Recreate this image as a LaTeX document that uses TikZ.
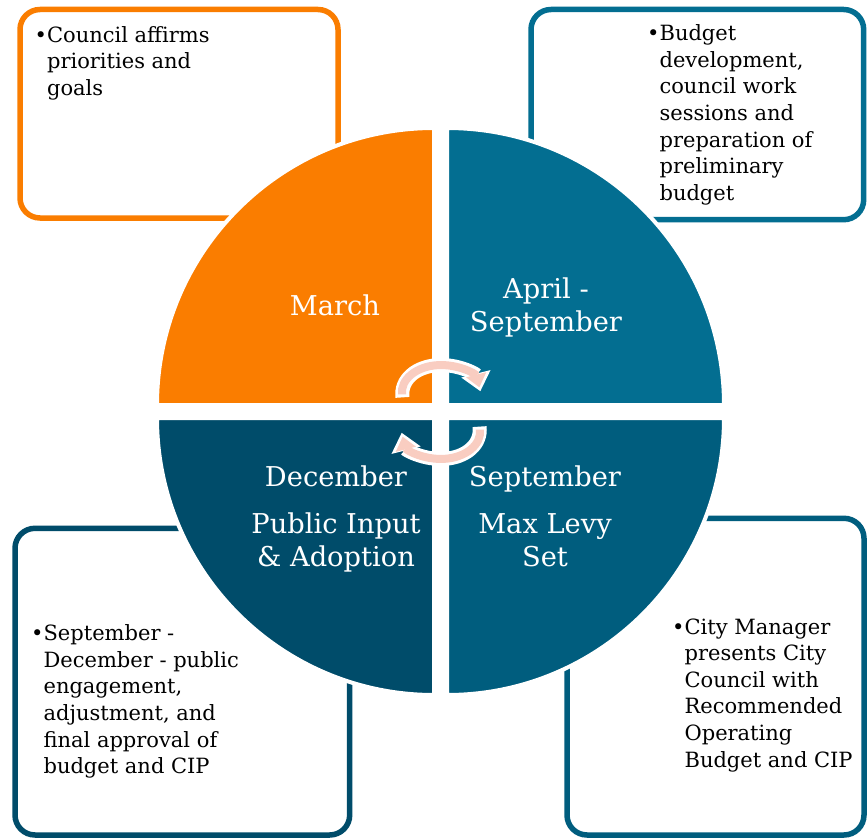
\documentclass[tikz,border=0pt]{standalone}
\usepackage{fontspec}
\setmainfont{DejaVu Serif}
\usetikzlibrary{arrows.meta}
\definecolor{orangeq}{RGB}{250,125,0}
\definecolor{tealA}{RGB}{3,110,145}
\definecolor{tealB}{RGB}{0,93,126}
\definecolor{tealC}{RGB}{0,76,106}
\definecolor{pinkc}{RGB}{249,205,193}
\tikzset{
  infobox/.style={rectangle, rounded corners=20pt, line width=5.5pt, fill=white, inner sep=0pt},
  quad/.style={draw=white, line width=4pt},
  boxtext/.style={anchor=base west, inner sep=0pt, text=black, font=\fontsize{21pt}{26.6pt}\selectfont},
  qtext/.style={anchor=base, inner sep=0pt, text=white, font=\fontsize{27.3pt}{33.3pt}\selectfont},
  arrowout/.style={draw=white, line width=14pt, shorten <=-3pt, shorten >=-4pt, -{Triangle[length=18pt,width=29pt]}},
  arrowin/.style={draw=pinkc, line width=8pt, -{Triangle[length=13pt,width=20pt]}}
}
\begin{document}
\begin{tikzpicture}[x=1pt,y=-1pt]
\useasboundingbox (0,0) rectangle (867,840);
\fill[white] (0,0) rectangle (867,840);

% boxes
\node[infobox, draw=orangeq, minimum width=318pt, minimum height=208.5pt] (boxTL) at (179,113.75) {};
\node[infobox, draw=tealA, minimum width=332.7pt, minimum height=210.2pt] (boxTR) at (697.35,114.6) {};
\node[infobox, draw=tealC, minimum width=334.7pt, minimum height=306.7pt] (boxBL) at (182.35,681.65) {};
\node[infobox, draw=tealB, minimum width=297pt, minimum height=316.7pt] (boxBR) at (715.5,676.65) {};

% quadrants
\filldraw[quad, fill=orangeq] (434,405) -- ++(180:277) arc[start angle=180, end angle=270, radius=277] -- cycle;
\filldraw[quad, fill=tealA] (447,405) -- ++(270:277) arc[start angle=270, end angle=360, radius=277] -- cycle;
\filldraw[quad, fill=tealB] (447,418) -- ++(0:277) arc[start angle=0, end angle=90, radius=277] -- cycle;
\filldraw[quad, fill=tealC] (434,418) -- ++(90:277) arc[start angle=90, end angle=180, radius=277] -- cycle;

% central circular arrows
\coordinate (topTail) at (402.1,394.4);
\coordinate (botTail) at (479.9,429.6);
\draw[arrowout] (topTail) arc[start angle=-185, end angle=-10, x radius=39, y radius=27];
\draw[arrowin] (topTail) arc[start angle=-185, end angle=-10, x radius=39, y radius=27];
\draw[arrowout] (botTail) arc[start angle=-5, end angle=170, x radius=39, y radius=27];
\draw[arrowin] (botTail) arc[start angle=-5, end angle=170, x radius=39, y radius=27];

% quadrant labels
\node[qtext] (lMarch) at (335,315.7) {March};
\node[qtext] (lApril) at (546,298.3) {\begin{tabular}[t]{@{}c@{}}April -\\September\end{tabular}};
\node[qtext] (lDec) at (336,486.7) {December};
\node[qtext] (lPublic) at (336,533.3) {\begin{tabular}[t]{@{}c@{}}Public Input\\\& Adoption\end{tabular}};
\node[qtext] (lSep) at (545,486.7) {September};
\node[qtext] (lLevy) at (545,533.3) {\begin{tabular}[t]{@{}c@{}}Max Levy\\Set\end{tabular}};

% box texts
\node[boxtext] (tTL) at (34.5,42.3) {\begin{tabular}[t]{@{}l@{}l@{}}•&Council affirms\\&priorities and\\&goals\end{tabular}};
\node[boxtext] (tTR) at (647,40.7) {\begin{tabular}[t]{@{}l@{}l@{}}•&Budget\\&development,\\&council work\\&sessions and\\&preparation of\\&preliminary\\&budget\end{tabular}};
\node[boxtext] (tBL) at (31,640.7) {\begin{tabular}[t]{@{}l@{}l@{}}•&September -\\&December - public\\&engagement,\\&adjustment, and\\&final approval of\\&budget and CIP\end{tabular}};
\node[boxtext] (tBR) at (672,634) {\begin{tabular}[t]{@{}l@{}l@{}}•&City Manager\\&presents City\\&Council with\\&Recommended\\&Operating\\&Budget and CIP\end{tabular}};
\end{tikzpicture}
\end{document}
